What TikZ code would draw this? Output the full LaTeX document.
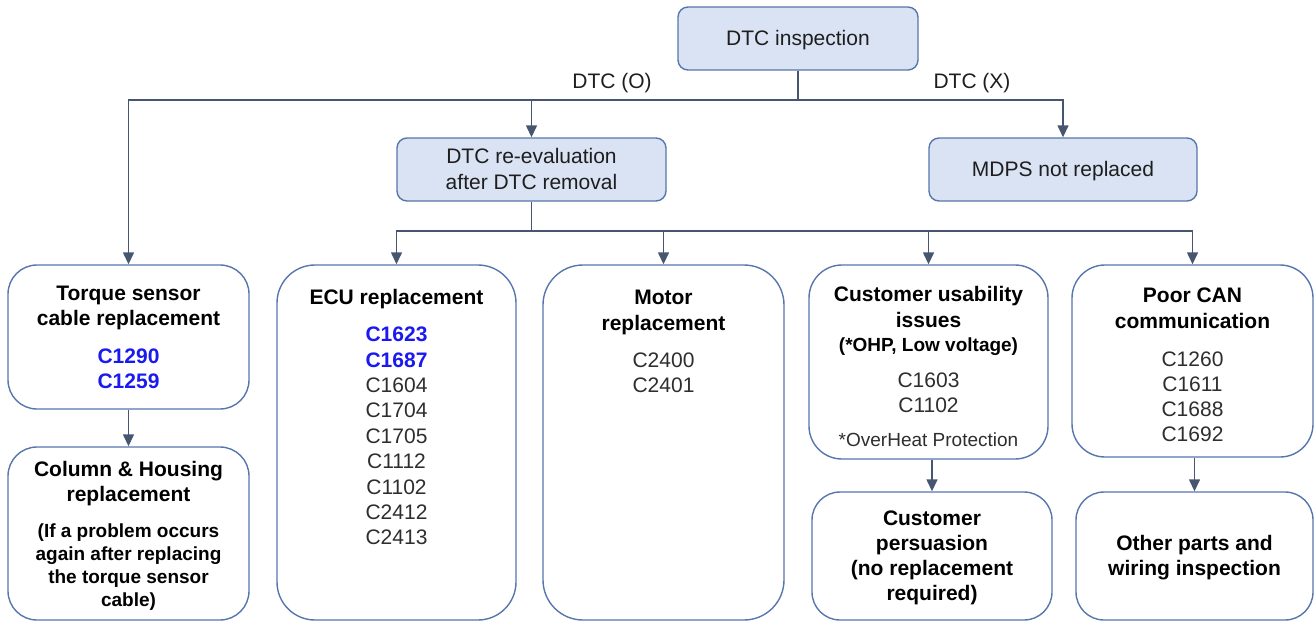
\documentclass[tikz,border=0pt]{standalone}
\usepackage{fontspec}
\setmainfont{Liberation Sans}
\usetikzlibrary{arrows.meta}
\definecolor{boxfill}{HTML}{DAE3F3}
\definecolor{boxline}{HTML}{5776AC}
\definecolor{connc}{HTML}{465670}
\definecolor{codeblue}{HTML}{1A1AF0}
\definecolor{txt}{HTML}{1E1E1E}
\definecolor{codegray}{HTML}{2E2E2E}
\newcommand\fsz[2]{\fontsize{#1}{#2}\selectfont}
\newcommand\ml[1]{\begin{tabular}[t]{@{}c@{}}#1\end{tabular}}
\newcommand\bc[1]{\textcolor{codeblue}{\bfseries #1}}
\begin{document}
\begin{tikzpicture}[x=1pt,y=-1pt,
  topbox/.style={draw=boxline, fill=boxfill, line width=1.4pt, rounded corners=10pt, inner sep=0pt, minimum height=63pt},
  botbox/.style={draw=boxline, fill=white, line width=1.4pt, inner sep=0pt},
  connline/.style={draw=connc, line width=1.4pt},
  arr/.style={connline, -{Triangle[length=12pt,width=11pt]}},
  reg/.style={inner sep=0pt, anchor=base, text=codegray, font=\fsz{21}{25.5}},
  hd/.style={inner sep=0pt, anchor=base, text=black, font=\fsz{21}{25.5}\bfseries},
  sm/.style={inner sep=0pt, anchor=base, text=black, font=\fsz{19}{23}\bfseries},
  note/.style={inner sep=0pt, anchor=base, text=codegray, font=\fsz{19}{23}},
]
\useasboundingbox (0,0) rectangle (1314,622);

% top boxes
\node[topbox, minimum width=240pt] (top) at (798,38.5) {};
\node[topbox, minimum width=269pt] (reeval) at (531.5,169.5) {};
\node[topbox, minimum width=268pt] (mdps) at (1063,169.5) {};
\node[reg, text=txt] (ttop) at (798,45) {DTC inspection};
\node[reg, text=txt, font=\fsz{21}{25.7}] (treeval) at (531.5,163.3) {\ml{DTC re-evaluation\\after DTC removal}};
\node[reg, text=txt] (tmdps) at (1063,176) {MDPS not replaced};
\node[reg, text=txt] (lo) at (612,88) {DTC (O)};
\node[reg, text=txt] (lx) at (972,88) {DTC (X)};

% bottom boxes
\node[botbox, rounded corners=29pt, minimum width=241pt, minimum height=144pt] (torque) at (128.5,337) {};
\node[botbox, rounded corners=29pt, minimum width=241pt, minimum height=173pt] (column) at (128.5,533.5) {};
\node[botbox, rounded corners=38pt, minimum width=239pt, minimum height=355pt] (ecu) at (396.5,442.5) {};
\node[botbox, rounded corners=40pt, minimum width=241pt, minimum height=355pt] (motor) at (663.5,442.5) {};
\node[botbox, rounded corners=33pt, minimum width=239pt, minimum height=194pt] (usab) at (928.5,362) {};
\node[botbox, rounded corners=28pt, minimum width=240pt, minimum height=128pt] (pers) at (932,556) {};
\node[botbox, rounded corners=33pt, minimum width=241pt, minimum height=192pt] (can) at (1192.5,361) {};
\node[botbox, rounded corners=28pt, minimum width=237pt, minimum height=128pt] (other) at (1194.5,556) {};

% texts
\node[hd] (ttorque) at (128.5,300) {\ml{Torque sensor\\cable replacement}};
\node[reg, font=\fsz{21}{24.8}] (ctorque) at (128.5,363.3) {\ml{\bc{C1290}\\\bc{C1259}}};
\node[hd, font=\fsz{21}{24.5}\bfseries] (tcolumn) at (128.5,476.7) {\ml{Column \& Housing\\replacement}};
\node[sm] (ncolumn) at (128.5,537) {\ml{(If a problem occurs\\again after replacing\\the torque sensor\\cable)}};
\node[hd] (tecu) at (396.5,304) {ECU replacement};
\node[reg, font=\fsz{21}{25.4}] (cecu) at (396.5,341.7) {\ml{\bc{C1623}\\\bc{C1687}\\C1604\\C1704\\C1705\\C1112\\C1102\\C2412\\C2413}};
\node[hd, font=\fsz{21}{25.7}\bfseries] (tmotor) at (663.5,304.3) {\ml{Motor\\replacement}};
\node[reg, font=\fsz{21}{25}] (cmotor) at (663.5,367.7) {\ml{C2400\\C2401}};
\node[hd, font=\fsz{21}{25.6}\bfseries] (tusab) at (928.5,301.7) {\ml{Customer usability\\issues}};
\node[sm] (susab) at (928.5,351) {(*OHP, Low voltage)};
\node[reg, font=\fsz{21}{25}] (cusab) at (928.5,387.7) {\ml{C1603\\C1102}};
\node[note] (nusab) at (928.5,446.7) {*OverHeat Protection};
\node[hd, font=\fsz{21}{25.3}\bfseries] (tpers) at (932,525) {\ml{Customer\\persuasion\\(no replacement\\required)}};
\node[hd, font=\fsz{21}{25.6}\bfseries] (tcan) at (1192.5,302.7) {\ml{Poor CAN\\communication}};
\node[reg, font=\fsz{21}{25}] (ccan) at (1192.5,366.7) {\ml{C1260\\C1611\\C1688\\C1692}};
\node[hd, font=\fsz{21}{25}\bfseries] (tother) at (1194.5,550) {\ml{Other parts and\\wiring inspection}};

% connectors
\coordinate (j1) at (798,100);
\coordinate (j2) at (531.5,231);
\draw[connline] (top.south) -- (j1);
\draw[arr] (j1) -| (torque.north);
\draw[arr] (j1) -| (reeval.north);
\draw[arr] (j1) -| (mdps.north);
\draw[connline] (reeval.south) -- (j2);
\draw[arr] (j2) -| (ecu.north);
\draw[arr] (j2) -| (motor.north);
\draw[arr] (j2) -| (usab.north);
\draw[arr] (j2) -| (can.north);
\draw[arr] (torque.south) -- (column.north);
\draw[arr] (usab.south -| pers.north) -- (pers.north);
\draw[arr] (can.south -| other.north) -- (other.north);
\end{tikzpicture}
\end{document}
